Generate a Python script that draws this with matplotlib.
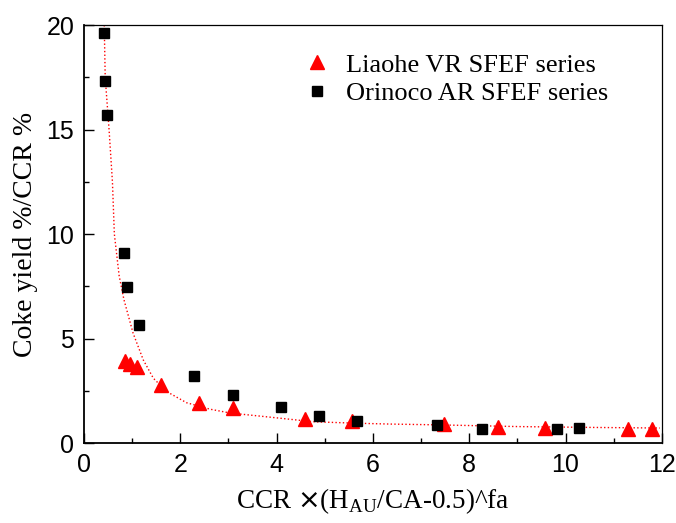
import matplotlib
matplotlib.use("Agg")
import matplotlib.pyplot as plt
from matplotlib.ticker import MultipleLocator

# Liaohe VR SFEF series (red triangles)
liaohe_x = [0.86, 0.95, 1.09, 1.59, 2.38, 3.09, 4.59, 5.56, 7.47, 8.60, 9.58, 11.30, 11.80]
liaohe_y = [3.95, 3.79, 3.67, 2.77, 1.94, 1.67, 1.15, 1.07, 0.92, 0.77, 0.72, 0.70, 0.70]

# Orinoco AR SFEF series (black squares)
orinoco_x = [0.42, 0.44, 0.48, 0.82, 0.89, 1.15, 2.29, 3.09, 4.10, 4.88, 5.66, 7.34, 8.26, 9.83, 10.28]
orinoco_y = [19.6, 17.33, 15.7, 9.09, 7.49, 5.67, 3.23, 2.30, 1.74, 1.31, 1.08, 0.86, 0.70, 0.70, 0.73]

# fitted curve
fit_x = [0.42, 0.44, 0.52, 0.59, 0.63, 0.73, 0.83, 1.02, 1.23, 1.44, 1.72, 2.13, 2.62,
         3.03, 4.07, 4.76, 5.66, 6.35, 7.39, 9.0, 10.5, 11.96]
fit_y = [20.0, 17.5, 15.0, 12.5, 10.0, 8.0, 6.86, 5.26, 3.99, 3.11, 2.47, 1.94, 1.63,
         1.45, 1.20, 1.03, 0.96, 0.92, 0.88, 0.80, 0.76, 0.73]

serif = ["Liberation Serif", "DejaVu Serif"]
sans = ["Liberation Sans", "DejaVu Sans"]

fig = plt.figure(figsize=(6.76, 5.23), dpi=100)
ax = fig.add_axes([0.1243, 0.1524, 0.8547, 0.7996])

ax.plot(fit_x, fit_y, ":", color="red", lw=1.0, zorder=2)
ax.plot(liaohe_x, liaohe_y, "^", color="red", ms=10, ls="none", zorder=3,
        label="Liaohe VR SFEF series")
ax.plot(orinoco_x, orinoco_y, "s", color="black", ms=7.5, ls="none", zorder=4,
        label="Orinoco AR SFEF series")

ax.set_xlim(0, 12)
ax.set_ylim(0, 20)
ax.xaxis.set_major_locator(MultipleLocator(2))
ax.xaxis.set_minor_locator(MultipleLocator(1))
ax.yaxis.set_major_locator(MultipleLocator(5))
ax.yaxis.set_minor_locator(MultipleLocator(2.5))
ax.tick_params(which="both", direction="in", top=False, right=False, width=1.0)
ax.tick_params(which="major", length=7, labelsize=18, pad=7)
ax.tick_params(which="minor", length=3.5)
for lab in ax.get_xticklabels() + ax.get_yticklabels():
    lab.set_family(sans)

ax.spines["left"].set_linewidth(1.3)
ax.spines["bottom"].set_linewidth(1.3)
ax.spines["top"].set_linewidth(0.9)
ax.spines["right"].set_linewidth(0.9)

ax.set_xlabel(r"CCR $\times$(H$_{\mathregular{AU}}$/CA-0.5)^fa", family=serif,
              fontsize=19.5, labelpad=7)
ax.set_ylabel("Coke yield %/CCR %", family=serif, fontsize=20, labelpad=6)

leg = ax.legend(loc="upper left", bbox_to_anchor=(0.335, 0.99), frameon=False,
                prop={"family": serif, "size": 19}, handletextpad=0.5,
                labelspacing=0.2, handlelength=1.2)

fig.savefig("out.png", dpi=100)
